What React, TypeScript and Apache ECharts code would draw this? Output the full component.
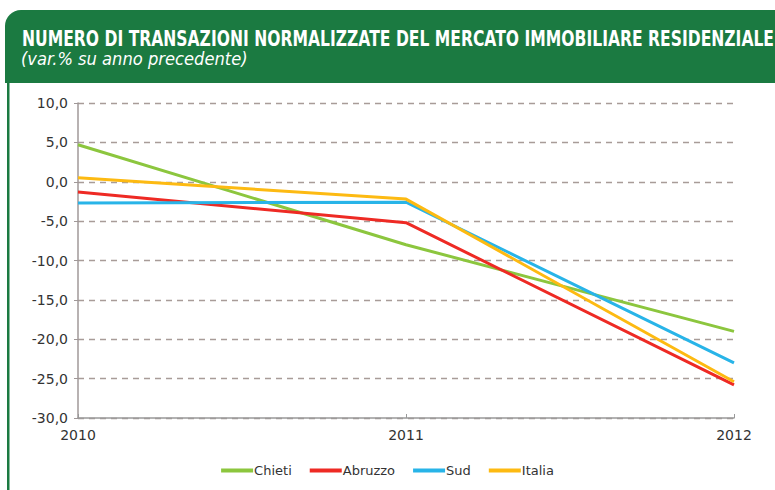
import React, { useEffect, useRef } from "react";
import * as echarts from "echarts";

const years = ["2010", "2011", "2012"];
const chieti = [4.7, -8.0, -19.0];
const abruzzo = [-1.3, -5.2, -25.8];
const sud = [-2.7, -2.6, -23.0];
const italia = [0.5, -2.2, -25.4];
const seriesNames = ["Chieti", "Abruzzo", "Sud", "Italia"];
const seriesColors = ["#8cc63e", "#ee2a24", "#28b4e8", "#fdba12"];
const titleText = "NUMERO DI TRANSAZIONI NORMALIZZATE DEL MERCATO IMMOBILIARE RESIDENZIALE";
const subtitleText = "(var.% su anno precedente)";

const FONT = "'DejaVu Sans', sans-serif";

export default function App() {
  const ref = useRef<HTMLDivElement>(null);
  useEffect(() => {
    if (!ref.current) return;
    const chart = echarts.init(ref.current, undefined, { renderer: "svg" });
    const data = [chieti, abruzzo, sud, italia];
    chart.setOption({
      animation: false,
      backgroundColor: "#ffffff",
      graphic: [
        { type: "rect", shape: { x: 5, y: 10, width: 790, height: 73, r: [16, 16, 0, 0] }, style: { fill: "#1b7a41" }, z: 0 },
        { type: "rect", shape: { x: 7, y: 80, width: 2.5, height: 420 }, style: { fill: "#1b7a41" }, z: 0 },
        { type: "text", x: 22, y: 28, scaleX: 0.742, style: { text: titleText, fill: "#ffffff", font: "bold 21px " + FONT }, z: 10 },
        { type: "text", x: 21, y: 51, scaleX: 0.96, style: { text: subtitleText, fill: "#ffffff", font: "italic 17px " + FONT }, z: 10 },
      ],
      legend: {
        bottom: 8,
        left: "center",
        itemWidth: 32,
        itemHeight: 4,
        itemGap: 18,
        icon: "rect",
        textStyle: { fontFamily: FONT, fontSize: 13, color: "#333", padding: [0, 0, 0, -4] },
        data: seriesNames,
      },
      grid: { left: 78, right: 41, top: 103, bottom: 72 },
      xAxis: [
        {
          type: "category",
          data: years,
          boundaryGap: false,
          axisLine: { show: false },
          axisTick: { show: false },
          axisLabel: { fontFamily: FONT, fontSize: 14, color: "#333", margin: 10 },
          splitLine: { show: false },
        },
        {
          type: "category",
          data: years,
          boundaryGap: false,
          position: "bottom",
          axisLine: { show: true, onZero: true, lineStyle: { color: "#999", width: 1.5 } },
          axisTick: { show: true, inside: true, length: 4, lineStyle: { color: "#999" } },
          axisLabel: { show: false },
          splitLine: { show: false },
        },
      ],
      yAxis: {
        type: "value",
        min: -30,
        max: 10,
        interval: 5,
        axisLine: { show: true, lineStyle: { color: "#a09898", width: 1.5 } },
        axisTick: { show: true, length: 4, lineStyle: { color: "#a09898" } },
        axisLabel: {
          fontFamily: FONT,
          fontSize: 14,
          color: "#333",
          margin: 10,
          formatter: (v: number) => v.toFixed(1).replace(".", ","),
        },
        splitLine: { show: true, lineStyle: { color: "#a89c98", type: [6, 5], width: 1.3 } },
      },
      series: seriesNames.map((name, i) => ({
        name,
        type: "line",
        data: data[i],
        symbol: "none",
        lineStyle: { color: seriesColors[i], width: 3 },
        itemStyle: { color: seriesColors[i] },
      })),
    });
    return () => chart.dispose();
  }, []);
  return <div ref={ref} style={{ width: 775, height: 490, position: "absolute", left: 0, top: 0 }} />;
}
